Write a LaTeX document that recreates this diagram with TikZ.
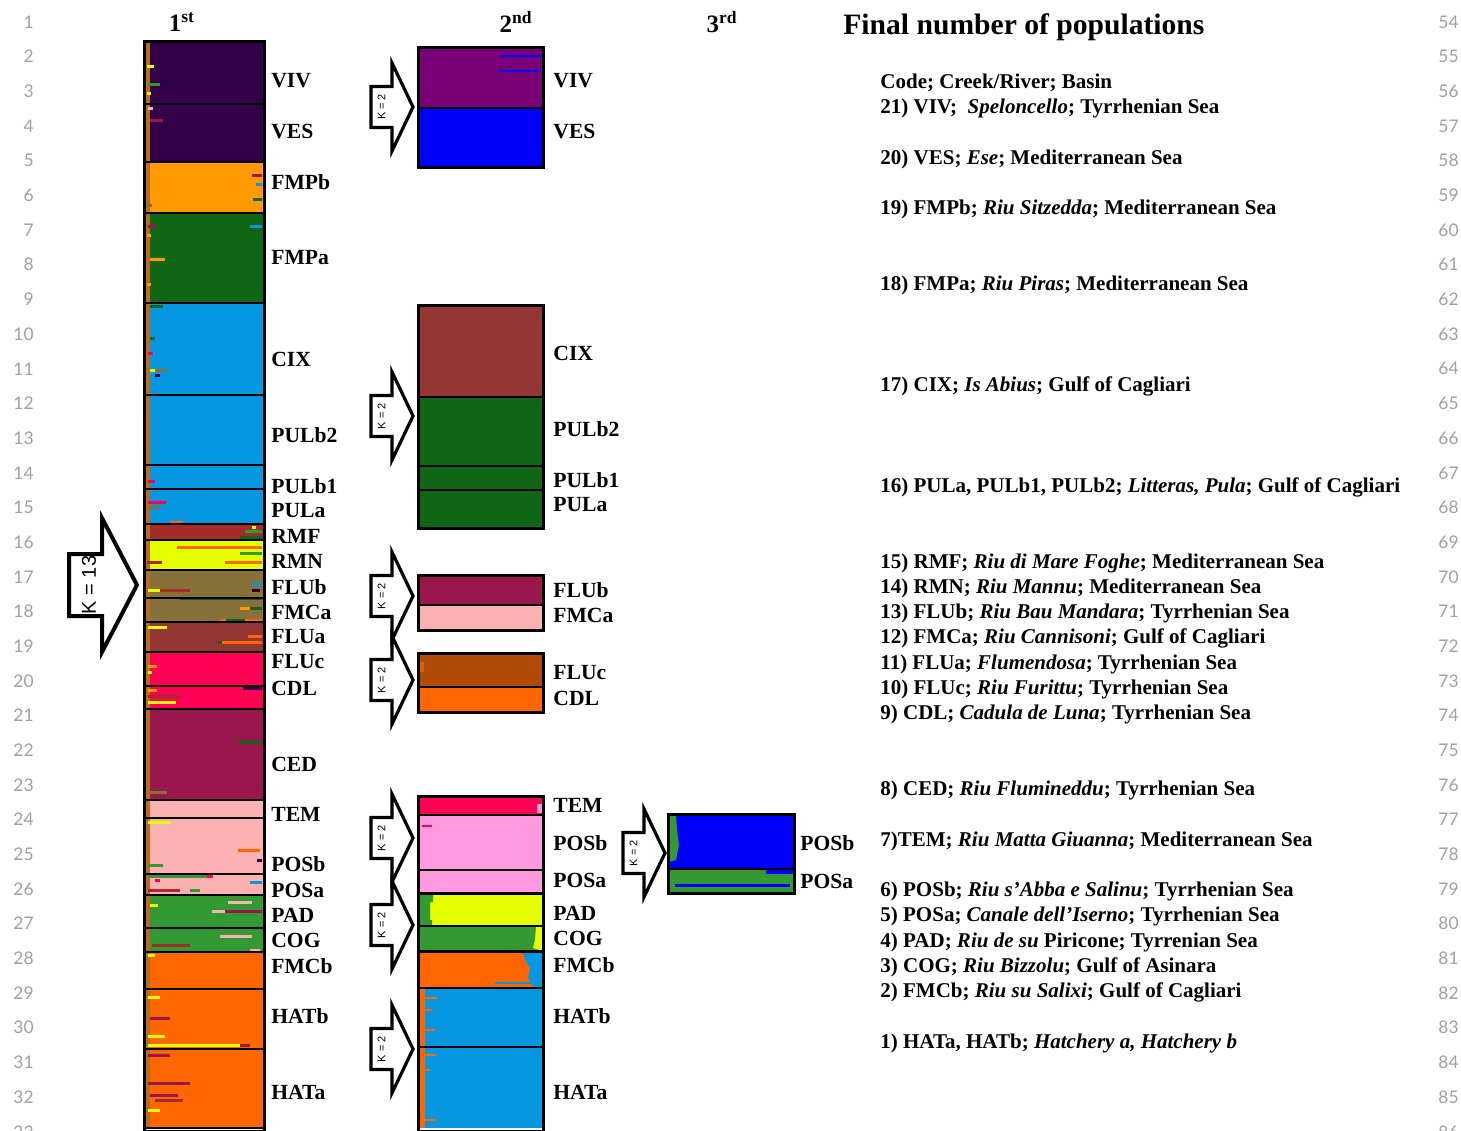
\documentclass[tikz,border=0pt]{standalone}
\usepackage{fontspec}
\setmainfont{Liberation Serif}
\setsansfont{Liberation Sans}
\newfontfamily\lnfont{Lato}
\usepackage{xcolor}
\usepackage{tikz}

\definecolor{popViv}{HTML}{35004A}
\definecolor{popFmpb}{HTML}{FF9900}
\definecolor{popGreen}{HTML}{0F6615}
\definecolor{popSky}{HTML}{0598E0}
\definecolor{popRmf}{HTML}{A52A2A}
\definecolor{popYel}{HTML}{E5FF00}
\definecolor{popOlive}{HTML}{86713A}
\definecolor{popFlua}{HTML}{943634}
\definecolor{popRed}{HTML}{FF0055}
\definecolor{popCed}{HTML}{99174D}
\definecolor{popPink}{HTML}{FBB1B1}
\definecolor{popLeaf}{HTML}{339933}
\definecolor{popOrange}{HTML}{FF6600}
\definecolor{popPurple}{HTML}{7A0078}
\definecolor{popBlue}{HTML}{0000FF}
\definecolor{popRust}{HTML}{B04A05}
\definecolor{popViolet}{HTML}{FF99E0}
\definecolor{lineno}{HTML}{A0A0A0}

\tikzset{
  poplab/.style={anchor=west, inner sep=0pt, font=\bfseries\fontsize{10.8}{12}\selectfont},
  legend/.style={anchor=west, inner sep=0pt, font=\bfseries\fontsize{10.5}{12}\selectfont},
  heading/.style={inner sep=0pt, font=\bfseries\fontsize{12.5}{14}\selectfont},
  lnum/.style={inner sep=0pt, text=lineno, font=\lnfont\fontsize{8.7}{10}\selectfont},
  klab/.style={rotate=90, inner sep=0pt, font=\sffamily\fontsize{5.5}{6}\selectfont},
  arrowbox/.style={line width=1.6pt, fill=white, line join=miter, miter limit=10},
  barframe/.style={line width=1.5pt}
}

\begin{document}
\begin{tikzpicture}[x=0.5pt, y=-0.5pt]
\useasboundingbox (0,0) rectangle (1461,1130);
\clip (0,0) rectangle (1461,1130);

% Line numbers
\foreach \n in {1,...,33}
  \node[lnum, anchor=east] (lnl\n) at (34,{22+(\n-1)*34.68}) {\n};
\foreach \n in {54,...,86}
  \node[lnum, anchor=east] (lnr\n) at (1459,{22+(\n-54)*34.68}) {\n};

% Headings
\node[heading] (h1) at (182,22) {1\textsuperscript{st}};
\node[heading] (h2) at (516,22) {2\textsuperscript{nd}};
\node[heading] (h3) at (722,22) {3\textsuperscript{rd}};
\node[anchor=west, inner sep=0pt, font=\bfseries\fontsize{14.8}{17}\selectfont] (title) at (843,27) {Final number of populations};

% 1st run, K = 13
\foreach \ya/\yb/\col in {42/104/popViv, 104/162/popViv, 162/213/popFmpb, 213/303/popGreen,
    303/395/popSky, 395/465/popSky, 465/489/popSky, 489/524/popSky, 524/540/popRmf,
    540/570/popYel, 570/598/popOlive, 598/622/popOlive, 622/652/popFlua, 652/686/popRed,
    686/709/popRed, 709/800/popCed, 800/818/popPink, 818/874/popPink, 874/895/popPink,
    895/928/popLeaf, 928/952/popLeaf, 952/989/popOrange, 989/1049/popOrange, 1049/1128/popOrange} {
  \fill[\col] (146,\ya) rectangle (263,\yb);
}
\fill[popOlive!60!popOrange] (146,42) rectangle (149.5,1128);
% admixture
\foreach \y/\xa/\xb/\col in {66/147/154/popYel, 84/148/160/popLeaf, 93/147/151/popYel,
    108/148/153/popPink, 120/150/163/popCed, 175/252/262/popCed, 184/256/262/popSky,
    199/253/262/popGreen, 205/147/152/popOlive, 226/148/156/popCed, 226/250/262/popSky,
    235/147/151/popFmpb, 259/150/165/popFmpb, 284/147/151/popFmpb,
    306/150/163/popGreen, 338/150/155/popGreen, 353/148/153/popRed, 370/148/167/popOlive,
    370/150/155/popYel, 375/155/160/popViv, 481/148/155/popRed, 502/148/166/popRed,
    507/148/160/popOlive, 522/170/183/popOrange,
    527/252/256/popYel, 531/245/262/popLeaf, 537/240/262/popGreen,
    547/177/262/popOrange, 553/240/262/popLeaf, 562/147/162/popRmf, 562/225/262/popOrange,
    584/252/262/popSky, 590/148/160/popYel, 590/160/190/popRmf, 590/252/260/popViv,
    598/180/262/popGreen, 608/240/250/popFmpb, 608/250/262/popGreen, 620/220/262/popOrange,
    620/226/245/popGreen, 627/148/167/popYel, 636/248/262/popOrange, 642/222/262/popOrange,
    642/218/222/popGreen, 666/148/157/popFmpb, 672/148/152/popYel, 690/148/157/popFmpb,
    688/243/262/popViv, 696/148/180/popRmf, 702/148/176/popYel, 742/238/262/popGreen,
    792/148/167/popOlive, 822/148/170/popYel, 850/238/260/popOrange, 860/257/262/popViv,
    865/148/163/popLeaf, 876/148/210/popLeaf, 876/207/213/popRed, 880/155/160/popRed,
    882/250/262/popSky, 890/148/180/popRmf, 890/190/200/popLeaf,
    902/228/252/popPink, 905/150/158/popYel, 911/212/225/popPink, 911/225/262/popCed,
    936/220/252/popPink, 945/152/190/popRmf, 950/250/260/popPink, 955/148/155/popYel,
    997/148/160/popYel, 1018/150/170/popCed, 1036/148/165/popYel, 1045/148/240/popYel,
    1045/240/250/popCed, 1055/148/170/popCed, 1083/148/190/popCed, 1095/150/178/popCed,
    1100/155/183/popRmf, 1110/148/160/popYel} {
  \fill[\col] (\xa,\y-1.5) rectangle (\xb,\y+1.5);
}
\foreach \yb in {104,162,213,303,395,465,489,524,540,570,598,622,652,686,709,800,818,874,895,928,952,989,1049,1128}
  \draw[line width=0.6pt] (146,\yb) -- (263,\yb);
\draw[barframe] (144.5,41) rectangle (264.5,1131);

\foreach \y/\lab in {81/VIV, 132/VES, 182/FMPb, 258/FMPa, 359/CIX, 435/PULb2, 486/PULb1,
    511/PULa, 536/RMF, 561/RMN, 587/FLUb, 612/FMCa, 637/FLUa, 662/FLUc, 688/CDL, 764/CED,
    814/TEM, 864/POSb, 890/POSa, 915/PAD, 940/COG, 966/FMCb, 1016/HATb, 1092/HATa}
  \node[poplab] (c1-\lab) at (271,\y) {\lab};

% Big arrow
\draw[arrowbox, line width=2pt] (137,585) -- ++(-35,-67) -- ++(0,36) -- ++(-33,0) -- ++(0,62)
  -- ++(33,0) -- ++(0,36) -- cycle;
\node[klab, font=\sffamily\fontsize{10}{12}\selectfont] (k13) at (89,585) {K = 13};

% 2nd run
\foreach \ya/\yb/\col in {47/108/popPurple, 108/167/popBlue, 305/397/popFlua, 397/466/popGreen,
    466/490/popGreen, 490/528/popGreen, 575/605/popCed, 605/630/popPink, 653/687/popRust,
    687/712/popOrange, 796/815/popRed, 815/870/popViolet, 870/893/popViolet, 893/926/popYel,
    926/951/popLeaf, 951/988/popOrange, 988/1047/popSky, 1047/1128/popSky} {
  \fill[\col] (419,\ya) rectangle (542,\yb);
}
\foreach \y/\xa/\xb/\col in {56/500/541/popBlue, 71/498/541/popBlue, 826/422/432/popRed,
    983/495/541/popSky, 998/421/437/popOrange, 1010/421/432/popOrange, 1030/421/435/popOrange,
    1055/421/436/popOrange, 1070/421/430/popOrange, 1120/421/437/popOrange} {
  \fill[\col] (\xa,\y-1.2) rectangle (\xb,\y+1.2);
}
\fill[popRust!40!popOrange] (420,662) rectangle (424,672);
\fill[popViolet] (537,804) rectangle (542,813);
\fill[popLeaf] (420,893) -- (433,893) -- (433,902) -- (430,902) -- (430,920) -- (432,920)
  -- (432,926) -- (420,926) -- cycle;
\fill[popYel] (542,926) -- (536,926) -- (535,940) -- (533,948) -- (542,951) -- cycle;
\fill[popSky] (542,951) -- (522,951) -- (525,960) -- (530,968) -- (528,978) -- (533,986)
  -- (542,988) -- cycle;
\fill[popOrange] (419,988) rectangle (425,1128);
\foreach \yb in {108,397,466,490,605,687,815,870,926,988,1047}
  \draw[line width=0.6pt] (419,\yb) -- (542,\yb);
\foreach \ya/\yb in {47/167, 305/528, 575/630, 653/712, 796/893, 893/951, 951/1131}
  \draw[barframe] (418.5,\ya) rectangle (543,\yb);

\foreach \y/\lab in {81/VIV, 132/VES, 353/CIX, 429/PULb2, 480/PULb1, 505/PULa, 590/FLUb,
    615/FMCa, 673/FLUc, 698/CDL, 805/TEM, 843/POSb, 880/POSa, 913/PAD, 938/COG, 965/FMCb,
    1016/HATb, 1092/HATa}
  \node[poplab] (c2-\lab) at (553,\y) {\lab};

% 3rd run
\fill[popBlue] (669,815) rectangle (793,869);
\fill[popLeaf] (669,869) rectangle (793,892);
\fill[popLeaf] (669,816) -- (676,816) -- (677,830) -- (679,845) -- (676,860) -- (669,862) -- cycle;
\fill[popBlue] (766,869) rectangle (793,874);
\fill[popBlue] (675,884) rectangle (790,886.5);
\draw[line width=0.6pt] (669,869) -- (793,869);
\draw[barframe] (668,814) rectangle (794,893);
\node[poplab] (c3-POSb) at (800,843) {POSb};
\node[poplab] (c3-POSa) at (800,881) {POSa};

% K = 2 arrows
\foreach \tx/\ty [count=\i] in {413/107, 413/416, 413/596, 413/680, 413/838, 413/925,
    413/1049, 665/853} {
  \draw[arrowbox] (\tx,\ty) -- ++(-21,-44) -- ++(0,23.5) -- ++(-21,0) -- ++(0,41)
    -- ++(21,0) -- ++(0,23.5) -- cycle;
  \node[klab] (k2-\i) at (\tx-31.5,\ty) {K = 2};
}

% Legend
\foreach \y/\txt [count=\i] in {
    83/{Code; Creek/River; Basin},
    108/{21) VIV;\ \ \textit{Speloncello}; Tyrrhenian Sea},
    159/{20) VES; \textit{Ese}; Mediterranean Sea},
    209/{19) FMPb; \textit{Riu Sitzedda}; Mediterranean Sea},
    285/{18) FMPa; \textit{Riu Piras}; Mediterranean Sea},
    386/{17) CIX; \textit{Is Abius}; Gulf of Cagliari},
    487/{16) PULa, PULb1, PULb2; \textit{Litteras, Pula}; Gulf of Cagliari},
    563/{15) RMF; \textit{Riu di Mare Foghe}; Mediterranean Sea},
    588/{14) RMN; \textit{Riu Mannu}; Mediterranean Sea},
    613/{13) FLUb; \textit{Riu Bau Mandara}; Tyrrhenian Sea},
    638/{12) FMCa; \textit{Riu Cannisoni}; Gulf of Cagliari},
    664/{11) FLUa; \textit{Flumendosa}; Tyrrhenian Sea},
    689/{10) FLUc; \textit{Riu Furittu}; Tyrrhenian Sea},
    714/{9) CDL; \textit{Cadula de Luna}; Tyrrhenian Sea},
    790/{8) CED; \textit{Riu Flumineddu}; Tyrrhenian Sea},
    841/{7)TEM; \textit{Riu Matta Giuanna}; Mediterranean Sea},
    891/{6) POSb; \textit{Riu s’Abba e Salinu}; Tyrrhenian Sea},
    916/{5) POSa; \textit{Canale dell’Iserno}; Tyrrhenian Sea},
    942/{4) PAD; \textit{Riu de su} Piricone; Tyrrenian Sea},
    967/{3) COG; \textit{Riu Bizzolu}; Gulf of Asinara},
    992/{2) FMCb; \textit{Riu su Salixi}; Gulf of Cagliari},
    1043/{1) HATa, HATb; \textit{Hatchery a, Hatchery b}}}
  \node[legend] (leg\i) at (880,\y) {\txt};
\end{tikzpicture}
\end{document}
